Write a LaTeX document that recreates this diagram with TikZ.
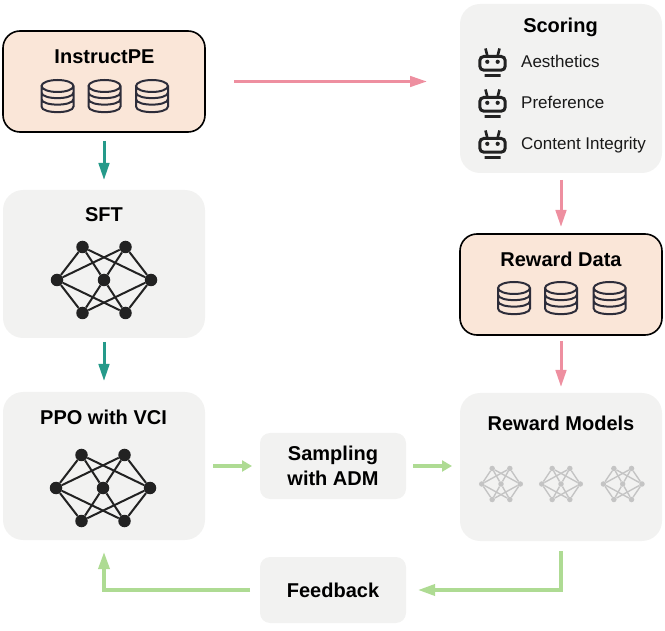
\documentclass[tikz,border=0pt]{standalone}
\usepackage{fontspec}
\setmainfont{Liberation Sans}
\usetikzlibrary{positioning}
\usetikzlibrary{arrows.meta}
\definecolor{box_peach}{HTML}{FAE6D8}
\definecolor{box_grey}{HTML}{F2F2F1}
\definecolor{arrow_teal}{HTML}{259A8A}
\definecolor{arrow_pink}{HTML}{EE8FA0}
\definecolor{arrow_green}{HTML}{AEDB93}
\definecolor{icon_dark}{HTML}{2D2D3A}
\definecolor{net_dark}{HTML}{222222}
\definecolor{net_light}{HTML}{C4C4C4}
\tikzstyle{data_box}=[rectangle,draw=black,line width=1.6pt,fill=box_peach,rounded corners=17pt,outer sep=0pt,minimum width=202pt,minimum height=101pt,inner sep=0pt]
\tikzstyle{model_box}=[rectangle,fill=box_grey,rounded corners=20pt,outer sep=0pt,minimum width=202pt,minimum height=148pt,inner sep=0pt]
\tikzstyle{step_box}=[rectangle,fill=box_grey,rounded corners=10pt,outer sep=0pt,minimum width=146pt,minimum height=66pt,inner sep=0pt,align=center,font=\fontsize{20}{25}\selectfont\bfseries]
\tikzstyle{title_text}=[anchor=base,inner sep=0pt,font=\fontsize{20}{24}\selectfont\bfseries]
\tikzstyle{item_text}=[anchor=base west,inner sep=0pt,font=\fontsize{17}{20}\selectfont,text=black!90]
\tikzstyle{teal_arrow}=[draw=arrow_teal,line width=3pt,-{Triangle[length=17pt,width=10.5pt]}]
\tikzstyle{pink_arrow}=[draw=arrow_pink,line width=3pt,-{Triangle[length=17pt,width=10.5pt]}]
\tikzstyle{green_arrow}=[draw=arrow_green,line width=3.4pt,-{Triangle[length=17pt,width=11pt]}]
\tikzstyle{green_short}=[draw=arrow_green,line width=3.4pt,-{Triangle[length=10pt,width=11pt]}]
\tikzset{
  dbicon/.pic={
    \draw[icon_dark,line width=2pt,line cap=round] (0,-10) ellipse [x radius=16,y radius=6]
      (-16,-10) -- (-16,10.5) .. controls (-16,18) and (16,18) .. (16,10.5) -- (16,-10)
      (-16,-3.5) .. controls (-16,4) and (16,4) .. (16,-3.5)
      (-16,3) .. controls (-16,10.5) and (16,10.5) .. (16,3);
  },
  boticon/.pic={
    \draw[net_dark,line width=3pt,rounded corners=4pt] (-12.7,-6.5) rectangle (12.7,7.2);
    \draw[net_dark,line width=2.6pt] (-7,-14.5) -- (-5,-6.5) (7,-14.5) -- (5,-6.5) (-8,12.5) -- (8,12.5);
    \fill[net_dark] (-5.2,-1.2) circle [radius=2.1] (5.2,-1.2) circle [radius=2.1];
  }
}
\newcommand{\netpic}[8]{
  \begin{scope}[shift={(#2,#3)},xscale=#4,yscale=#5]
    \foreach \n/\px/\py in {l/-47/0,m/0/0,r/47/0,a/-21.5/-33,b/21.5/-33,c/-21.5/33,d/21.5/33}
      \node (#1\n) [circle,fill=#6,inner sep=0pt,minimum size=#7] at (\px,\py) {};
    \foreach \u in {a,b,c,d}
      \foreach \v in {l,m,r}
        \draw[#6,line width=#8] (#1\u) -- (#1\v);
  \end{scope}
}
\begin{document}
\begin{tikzpicture}[x=1pt,y=-1pt]
\useasboundingbox (0,0) rectangle (665,631);
\node (instruct) [data_box] at (104,81.5) {};
\node (sft) [below=58pt of instruct, model_box] {};
\node (ppo) [below=54pt of sft, model_box] {};
\node (scoring) [model_box,minimum height=169pt] at (561,88.5) {};
\node (rewarddata) [below=61pt of scoring, data_box] {};
\node (rewardmodels) [below=58pt of rewarddata, model_box] {};
\node (sampling) [right=55pt of ppo, step_box] {Sampling\\with ADM};
\node (feedback) [below=58pt of sampling, step_box] {Feedback};

\node (l_instruct) [title_text] at (104.5,64) {InstructPE};
\node (l_scoring) [title_text] at (560.5,33) {Scoring};
\node (l_sft) [title_text] at (104,221.5) {SFT};
\node (l_rewarddata) [title_text] at (561,267) {Reward Data};
\node (l_ppo) [title_text] at (103.5,424.5) {PPO with VCI};
\node (l_rewardmodels) [title_text] at (561,431) {Reward Models};
\node (l_aes) [item_text] at (521,68) {Aesthetics};
\node (l_pref) [item_text] at (521,109) {Preference};
\node (l_integrity) [item_text] at (521,150) {Content Integrity};

\foreach \px in {57.5,104.5,152}
  \pic at (\px,96) {dbicon};
\foreach \px in {514,561,609.7}
  \pic at (\px,298) {dbicon};
\foreach \py in {63,104,145}
  \pic at (492.5,\py) {boticon};

\netpic{sftnet}{104}{280}{1}{1}{net_dark}{12.5pt}{2pt}
\netpic{pponet}{103}{488}{1}{1}{net_dark}{12.5pt}{2pt}
\netpic{rma}{501}{484}{0.41}{0.47}{net_light}{5.5pt}{1.4pt}
\netpic{rmb}{561}{484}{0.41}{0.47}{net_light}{5.5pt}{1.4pt}
\netpic{rmc}{622.7}{484}{0.41}{0.47}{net_light}{5.5pt}{1.4pt}

\draw[teal_arrow,shorten <=9pt,shorten >=10pt] (instruct) -- (sft);
\draw[teal_arrow,shorten <=4pt,shorten >=11pt] (sft) -- (ppo);
\draw[pink_arrow,shorten <=29pt,shorten >=33pt] (instruct.east) -- (instruct.east -| scoring.west);
\draw[pink_arrow,shorten <=7pt,shorten >=7pt] (scoring) -- (rewarddata);
\draw[pink_arrow,shorten <=6pt,shorten >=6pt] (rewarddata) -- (rewardmodels);
\draw[green_short,shorten <=8pt,shorten >=8pt] (ppo) -- (sampling);
\draw[green_short,shorten <=7pt,shorten >=8pt] (sampling) -- (sampling -| rewardmodels.west);
\draw[green_arrow,shorten <=10pt,shorten >=12pt] (rewardmodels.south) |- (feedback.east);
\draw[green_arrow,shorten <=10pt,shorten >=12pt] (feedback.west) -| (ppo.south);
\end{tikzpicture}
\end{document}
